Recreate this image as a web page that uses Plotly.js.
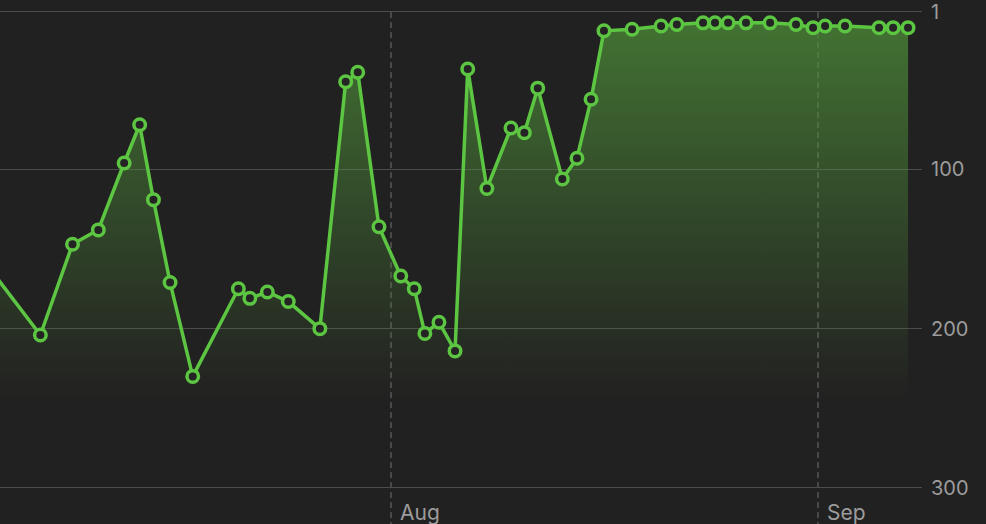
<!DOCTYPE html>
<html>
<head>
<meta charset="utf-8">
<script src="https://cdn.plot.ly/plotly-3.0.1.min.js"></script>
<style>
  html, body { margin: 0; padding: 0; background: #222121; }
  #chart { width: 986px; height: 524px; }
</style>
</head>
<body>
<div id="chart"></div>
<script>
// ---- data ----
const dates = [
  '2023-07-02 16:00', '2023-07-06 13:00', '2023-07-08 21:00', '2023-07-10 18:00',
  '2023-07-12 15:00', '2023-07-13 18:00', '2023-07-14 18:00', '2023-07-15 23:00',
  '2023-07-17 14:30', '2023-07-20 22:00', '2023-07-21 18:00', '2023-07-23 00:30',
  '2023-07-24 13:00', '2023-07-26 20:00', '2023-07-28 17:00', '2023-07-29 14:00',
  '2023-07-31 03:00', '2023-08-01 17:00', '2023-08-02 16:30', '2023-08-03 11:00',
  '2023-08-04 11:30', '2023-08-05 15:30', '2023-08-06 13:40', '2023-08-07 23:00',
  '2023-08-09 17:00', '2023-08-10 16:20', '2023-08-11 15:40', '2023-08-13 10:30',
  '2023-08-14 12:00', '2023-08-15 12:30', '2023-08-16 11:00', '2023-08-18 12:00',
  '2023-08-20 14:30', '2023-08-21 18:00', '2023-08-23 15:40', '2023-08-24 12:30',
  '2023-08-25 11:20', '2023-08-26 18:30', '2023-08-28 12:30', '2023-08-30 09:40',
  '2023-08-31 15:20', '2023-09-01 12:20', '2023-09-02 23:00', '2023-09-05 10:20',
  '2023-09-06 10:50', '2023-09-07 12:50'
];
const ranks = [
  160, 204, 147, 138, 96, 72, 119, 171,
  230, 175, 181, 177, 183, 200, 45, 39,
  136, 167, 175, 203, 196, 214, 37, 112,
  74, 77, 49, 106, 93, 56, 13, 12,
  10, 9, 8, 8, 8, 8, 8, 9,
  11, 10, 10, 11, 11, 11
];
const yTicks = [1, 100, 200, 300];
const monthStarts = ['2023-07-01', '2023-08-01', '2023-09-01'];
const monthLabels = ['Jul', 'Aug', 'Sep'];

// ---- style ----
const BG = '#222121';
const GREEN = '#5cc542';
const TEXT = '#9c9c9c';
const FONT = 'Inter, "Liberation Sans", sans-serif';
const yMax = yTicks[yTicks.length - 1];

const baseline = {
  x: [dates[0], dates[dates.length - 1]],
  y: [yMax, yMax],
  mode: 'lines',
  line: { width: 0, color: 'rgba(0,0,0,0)' },
  hoverinfo: 'skip',
  showlegend: false
};

const main = {
  x: dates,
  y: ranks,
  mode: 'lines+markers',
  fill: 'tonexty',
  fillgradient: {
    type: 'vertical',
    start: 0,
    stop: 245,
    colorscale: [
      [0, 'rgba(80,150,58,0.72)'],
      [0.4, 'rgba(80,150,58,0.42)'],
      [0.8, 'rgba(80,150,58,0.13)'],
      [1, 'rgba(80,150,58,0)']
    ]
  },
  line: { color: GREEN, width: 3.5 },
  marker: { symbol: 'circle', size: 11.5, color: '#242424', line: { color: GREEN, width: 3.5 } },
  showlegend: false,
  cliponaxis: true
};

const shapes = monthStarts.map(d => ({
  type: 'line', xref: 'x', yref: 'paper',
  x0: d, x1: d, y0: -0.08, y1: 0.976,
  line: { color: '#727272', width: 1, dash: '6px,4px' },
  layer: 'below'
}));

const layout = {
  width: 986, height: 524,
  margin: { l: 0, r: 64, t: 0, b: 35 },
  paper_bgcolor: BG,
  plot_bgcolor: BG,
  showlegend: false,
  font: { family: FONT, color: TEXT, size: 20 },
  xaxis: {
    type: 'date',
    range: ['2023-07-03 14:40', '2023-09-08 13:10'],
    tickmode: 'array',
    tickvals: monthStarts.slice(1),
    ticktext: monthLabels.slice(1),
    ticklabelposition: 'outside right',
    ticklabelshift: 9,
    ticklabelstandoff: 9,
    ticklabeloverflow: 'allow',
    ticks: '',
    showgrid: false,
    zeroline: false,
    showline: false,
    tickfont: { family: FONT, color: TEXT, size: 21 }
  },
  yaxis: {
    side: 'right',
    range: [yMax + 0.7, -6.35],
    tickmode: 'array',
    tickvals: yTicks,
    ticktext: yTicks.map(String),
    ticks: '',
    ticklabelstandoff: 8,
    ticklabeloverflow: 'allow',
    showgrid: true,
    gridcolor: '#4c4c4c',
    gridwidth: 1,
    zeroline: false,
    showline: false,
    tickfont: { family: FONT, color: TEXT, size: 20 }
  },
  shapes: shapes,
  annotations: [{
    xref: 'paper', yref: 'paper', x: 0, y: 0,
    xanchor: 'right', yanchor: 'top', xshift: 3, yshift: -13,
    text: monthLabels[0], showarrow: false,
    font: { family: FONT, color: TEXT, size: 21 }
  }]
};

Plotly.newPlot('chart', [baseline, main], layout, { displayModeBar: false, staticPlot: true });
</script>
</body>
</html>
